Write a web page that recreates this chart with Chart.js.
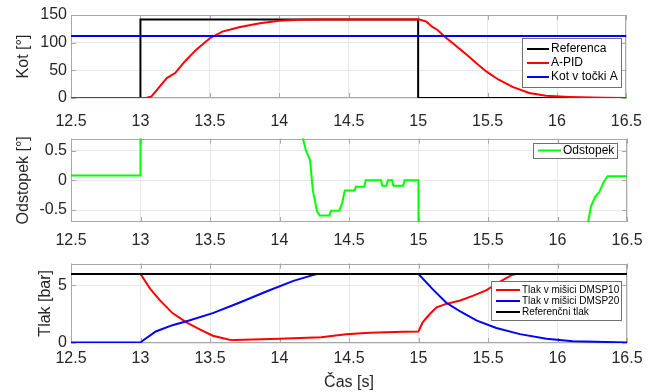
<!DOCTYPE html>
<html>
<head>
<meta charset="utf-8">
<script src="https://cdn.jsdelivr.net/npm/chart.js@4.4.1/dist/chart.umd.min.js"></script>
<style>
  body { margin: 0; background: #fff; }
  #okno { position: relative; width: 656px; height: 392px; overflow: hidden; }
  #okno canvas { position: absolute; left: 0; }
</style>
</head>
<body>
<div id="okno">
  <canvas id="grafKot" width="656" height="131" style="top:0px"></canvas>
  <canvas id="grafOdstopek" width="656" height="125" style="top:125px"></canvas>
  <canvas id="grafTlak" width="656" height="142" style="top:250px"></canvas>
</div>
<script>
// skupna casovna os
const casTicks = [12.5, 13, 13.5, 14, 14.5, 15, 15.5, 16, 16.5];

// graf 1 - kot
const kotTicks = [0, 50, 100, 150];
const refT = [12.5, 13, 13, 15, 15, 16.5];
const refKot = [0, 0, 142, 142, 0, 0];
const pidT = [12.5, 13.04, 13.08, 13.14, 13.19, 13.25, 13.32, 13.4, 13.5, 13.59, 13.71, 13.86, 14.0, 14.14, 14.3,
  15.01, 15.06, 15.1, 15.14, 15.19, 15.25, 15.35, 15.42, 15.49, 15.58, 15.68, 15.8, 15.92, 16.09, 16.33, 16.5];
const pidKot = [0, 0, 3, 21, 36, 45, 66, 87, 108, 120, 128, 135, 139.6, 141.5, 142,
  142, 138, 129, 123, 111, 99, 78, 63, 48, 33, 20, 9, 4, 2, 0.5, 0];
const tockaAT = [12.5, 16.5];
const tockaAKot = [112, 112];

// graf 2 - odstopek
const odsTicks = [-0.5, 0, 0.5];
const odsT = [12.5, 13, 13, 13.5, 14, 14.17, 14.19, 14.22, 14.24, 14.27, 14.29, 14.36, 14.37, 14.43, 14.45, 14.47,
  14.54, 14.55, 14.61, 14.62, 14.73, 14.74, 14.77, 14.78, 14.81, 14.82, 14.89, 14.9, 15, 15, 15.5, 16, 16.2,
  16.22, 16.24, 16.27, 16.3, 16.33, 16.36, 16.5];
const odsVal = [0.08, 0.08, 142, 34, 2.4, 0.69, 0.5, 0.34, -0.17, -0.52, -0.59, -0.59, -0.51, -0.51, -0.39, -0.17,
  -0.17, -0.11, -0.11, 0, 0, -0.09, -0.09, 0, 0, -0.09, -0.09, 0, 0, -142, -48, -4, -0.9,
  -0.71, -0.44, -0.28, -0.2, -0.04, 0.07, 0.07];

// graf 3 - tlak
const tlakTicks = [0, 5];
const dmsp10T = [12.5, 13, 13.07, 13.14, 13.23, 13.33, 13.43, 13.52, 13.64, 13.67, 13.81, 14, 14.3, 14.48, 14.65,
  14.89, 15, 15.03, 15.08, 15.13, 15.2, 15.3, 15.39, 15.49, 15.58, 15.67, 15.7, 16.5];
const dmsp10 = [6, 6, 4.7, 3.7, 2.6, 1.8, 1.17, 0.63, 0.29, 0.25, 0.3, 0.37, 0.5, 0.77, 0.9,
  0.98, 1.0, 1.8, 2.5, 3.1, 3.4, 3.7, 4.1, 4.6, 5.3, 5.9, 6, 6];
const dmsp20T = [12.5, 13, 13.02, 13.11, 13.23, 13.35, 13.52, 13.71, 13.91, 14.1, 14.24, 14.27, 15, 15.1, 15.2,
  15.3, 15.42, 15.56, 15.73, 15.92, 16.11, 16.5];
const dmsp20 = [0.05, 0.05, 0.24, 1.0, 1.55, 1.95, 2.6, 3.5, 4.5, 5.4, 5.9, 6, 6, 4.7, 3.5,
  2.75, 1.95, 1.3, 0.77, 0.37, 0.16, 0.05];
const refTlakT = [12.5, 16.5];
const refTlak = [6, 6];

const pisava = "'Liberation Sans', Arial, sans-serif";
const sivaOkvir = '#a8a8a8';

function tocke(xs, ys) {
  return xs.map((x, i) => ({ x: x, y: ys[i] }));
}

function crta(label, xs, ys, barva, vrstni) {
  return {
    label: label,
    data: tocke(xs, ys),
    borderColor: barva,
    backgroundColor: barva,
    borderWidth: 2,
    pointRadius: 0,
    tension: 0,
    fill: false,
    order: vrstni
  };
}

// okvir, notranje oznake in legenda (kot v Matlabu)
const okvir = {
  id: 'okvir',
  beforeDatasetsDraw(chart) {
    const ctx = chart.ctx, a = chart.chartArea;
    const sx = chart.scales.x, sy = chart.scales.y;
    ctx.save();
    ctx.strokeStyle = sivaOkvir;
    ctx.lineWidth = 1;
    ctx.strokeRect(Math.round(a.left) + 0.5, Math.round(a.top) + 0.5,
      Math.round(a.right - a.left) - 1, Math.round(a.bottom - a.top) - 1);
    ctx.beginPath();
    sx.ticks.forEach(t => {
      const px = Math.round(sx.getPixelForValue(t.value)) + 0.5;
      ctx.moveTo(px, a.bottom); ctx.lineTo(px, a.bottom - 5);
      ctx.moveTo(px, a.top); ctx.lineTo(px, a.top + 5);
    });
    sy.ticks.forEach(t => {
      const py = Math.round(sy.getPixelForValue(t.value)) + 0.5;
      ctx.moveTo(a.left, py); ctx.lineTo(a.left + 5, py);
      ctx.moveTo(a.right, py); ctx.lineTo(a.right - 5, py);
    });
    ctx.stroke();
    ctx.restore();
  },
  afterDatasetsDraw(chart, args, opts) {
    if (!opts.items) return;
    const ctx = chart.ctx;
    ctx.save();
    ctx.fillStyle = '#fff';
    ctx.fillRect(opts.x, opts.y, opts.w, opts.h);
    ctx.strokeStyle = '#707070';
    ctx.lineWidth = 1;
    ctx.strokeRect(opts.x + 0.5, opts.y + 0.5, opts.w, opts.h);
    ctx.font = opts.size + 'px ' + pisava;
    ctx.textBaseline = 'middle';
    ctx.textAlign = 'left';
    opts.items.forEach((it, i) => {
      const yy = opts.y + opts.first + i * opts.step;
      ctx.strokeStyle = it.color;
      ctx.lineWidth = 2;
      ctx.beginPath();
      ctx.moveTo(opts.x + 5, yy);
      ctx.lineTo(opts.x + 5 + opts.line, yy);
      ctx.stroke();
      ctx.fillStyle = '#000';
      ctx.fillText(it.text, opts.x + 7 + opts.line, yy);
    });
    ctx.restore();
  }
};

function narediGraf(id, datasets, o) {
  const ctx = document.getElementById(id).getContext('2d');
  return new Chart(ctx, {
    type: 'line',
    data: { datasets: datasets },
    plugins: [okvir],
    options: {
      responsive: false,
      animation: false,
      layout: { padding: { top: o.top, right: 29, left: 0, bottom: 0 } },
      scales: {
        x: {
          type: 'linear',
          min: 12.5,
          max: 16.5,
          afterBuildTicks: s => { s.ticks = casTicks.map(v => ({ value: v })); },
          afterFit: s => { s.height = o.xVisina; },
          grid: { color: '#e6e6e6', drawTicks: false },
          border: { display: false },
          ticks: {
            padding: o.xOdmik,
            maxRotation: 0,
            autoSkip: false,
            color: '#262626',
            font: { family: pisava, size: 16 },
            callback: v => String(v)
          },
          title: {
            display: !!o.xNaslov,
            text: o.xNaslov || '',
            color: '#262626',
            font: { family: pisava, size: 16 },
            padding: { top: 0, bottom: 0 }
          }
        },
        y: {
          type: 'linear',
          min: o.yMin,
          max: o.yMax,
          afterBuildTicks: s => { s.ticks = o.yTicks.map(v => ({ value: v })); },
          afterFit: s => { s.width = 71; },
          grid: { color: '#e6e6e6', drawTicks: false },
          border: { display: false },
          ticks: {
            padding: 4,
            color: '#262626',
            font: { family: pisava, size: 16 },
            callback: v => String(v)
          },
          title: {
            display: true,
            text: o.yNaslov,
            color: '#262626',
            font: { family: pisava, size: 16 },
            padding: { top: o.yNaslovOdmik, bottom: 0 }
          }
        }
      },
      plugins: {
        legend: { display: false },
        tooltip: { enabled: false },
        okvir: o.legenda
      }
    }
  });
}

narediGraf('grafKot', [
  crta('Referenca', refT, refKot, '#000000', 3),
  crta('A-PID', pidT, pidKot, '#ff0000', 2),
  crta('Kot v točki A', tockaAT, tockaAKot, '#0000ff', 1)
], {
  top: 15, xVisina: 33, xOdmik: 14, yMin: 0, yMax: 150, yTicks: kotTicks,
  yNaslov: 'Kot [°]', yNaslovOdmik: 14,
  legenda: {
    x: 522, y: 38, w: 99, h: 49, size: 12, line: 22, first: 11, step: 14,
    items: [
      { text: 'Referenca', color: '#000000' },
      { text: 'A-PID', color: '#ff0000' },
      { text: 'Kot v točki A', color: '#0000ff' }
    ]
  }
});

narediGraf('grafOdstopek', [
  crta('Odstopek', odsT, odsVal, '#00ff00', 1)
], {
  top: 9, xVisina: 28, xOdmik: 9, yMin: -0.7, yMax: 0.7, yTicks: odsTicks,
  yNaslov: 'Odstopek [°]', yNaslovOdmik: 14,
  legenda: {
    x: 533, y: 18, w: 84, h: 15, size: 12, line: 23, first: 7.5, step: 14,
    items: [{ text: 'Odstopek', color: '#00ff00' }]
  }
});

narediGraf('grafTlak', [
  crta('Tlak v mišici DMSP10', dmsp10T, dmsp10, '#ff0000', 3),
  crta('Tlak v mišici DMSP20', dmsp20T, dmsp20, '#0000ff', 2),
  crta('Referenčni tlak', refTlakT, refTlak, '#000000', 1)
], {
  top: 6, xVisina: 49, xOdmik: 6, yMin: 0, yMax: 6.9, yTicks: tlakTicks,
  yNaslov: 'Tlak [bar]', yNaslovOdmik: 36, xNaslov: 'Čas [s]',
  legenda: {
    x: 491, y: 31, w: 130, h: 39, size: 10, line: 24, first: 9, step: 11,
    items: [
      { text: 'Tlak v mišici DMSP10', color: '#ff0000' },
      { text: 'Tlak v mišici DMSP20', color: '#0000ff' },
      { text: 'Referenčni tlak', color: '#000000' }
    ]
  }
});
</script>
</body>
</html>
